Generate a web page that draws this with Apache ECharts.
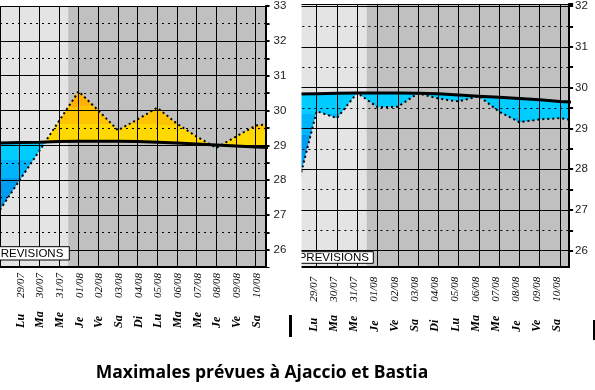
<!DOCTYPE html>
<html><head><meta charset="utf-8">
<script src="https://cdn.jsdelivr.net/npm/echarts@6/dist/echarts.min.js"></script>
<style>html,body{margin:0;padding:0;background:#fff}#c{width:595px;height:390px}</style>
</head><body><div id="c"></div>
<script>
// ---- data ----
const days = ['Di 28/07','Lu 29/07','Ma 30/07','Me 31/07','Je 01/08','Ve 02/08','Sa 03/08','Di 04/08','Lu 05/08','Ma 06/08','Me 07/08','Je 08/08','Ve 09/08','Sa 10/08','Di 11/08'];
const shownFirst = 1, shownLast = 13;           // labelled days (Lu 29/07 .. Sa 10/08)
const forecastFrom = 3.47;                       // start of the "PREVISIONS" (darker) zone
const ajaccioForecast = [27.15, 28.0, 28.84, 29.7, 30.55, 30.0, 29.43, 29.75, 30.08, 29.62, 29.25, 28.93, 29.25, 29.57, 29.62];
const ajaccioNormal   = [29.07, 29.08, 29.09, 29.11, 29.12, 29.12, 29.12, 29.11, 29.09, 29.07, 29.04, 29.01, 28.98, 28.95, 28.93];
const bastiaForecast  = [27.45, 29.42, 29.25, 29.87, 29.52, 29.53, 29.86, 29.73, 29.66, 29.79, 29.41, 29.15, 29.22, 29.25, 29.17];
const bastiaNormal    = [29.84, 29.85, 29.86, 29.87, 29.87, 29.87, 29.86, 29.85, 29.82, 29.79, 29.76, 29.73, 29.70, 29.66, 29.63];
const ajaccioYLabels = [26, 27, 28, 29, 30, 31, 32, 33];
const bastiaYLabels  = [26, 27, 28, 29, 30, 31, 32];
const warmBands = ['#FFD800', '#FFC400', '#FFB000'];
const coolBands = ['#00CCFF', '#00B4FA', '#009CF0'];
const bandStep = 0.5;

function fillRenderer(fc, nm) {
  return function (params, api) {
    const i = params.dataIndex;
    if (i >= fc.length - 1) return null;
    const P1 = api.coord([i, fc[i]]), P2 = api.coord([i + 1, fc[i + 1]]);
    const Q1 = api.coord([i, nm[i]]), Q2 = api.coord([i + 1, nm[i + 1]]);
    const d1 = fc[i] - nm[i], d2 = fc[i + 1] - nm[i + 1];
    const half = api.size([0, bandStep])[1];
    const normY = (Q1[1] + Q2[1]) / 2;
    const children = [];
    function grad(sign) {
      const cols = sign > 0 ? warmBands : coolBands;
      const stops = [];
      cols.forEach((c, k) => {
        stops.push({offset: k / cols.length, color: c});
        stops.push({offset: (k + 1) / cols.length, color: c});
      });
      return new echarts.graphic.LinearGradient(0, normY, 0, normY - sign * cols.length * half, stops, true);
    }
    function poly(points, sign) {
      children.push({type: 'polygon', shape: {points: points}, style: {fill: grad(sign), stroke: null}});
    }
    if ((d1 >= 0 && d2 >= 0) || (d1 <= 0 && d2 <= 0)) {
      if (d1 === 0 && d2 === 0) return null;
      poly([P1, P2, Q2, Q1], (d1 + d2) >= 0 ? 1 : -1);
    } else {
      const t = d1 / (d1 - d2);
      const C = [P1[0] + t * (P2[0] - P1[0]), P1[1] + t * (P2[1] - P1[1])];
      poly([P1, C, Q1], d1 > 0 ? 1 : -1);
      poly([C, P2, Q2], d2 > 0 ? 1 : -1);
    }
    return {type: 'group', children: children};
  };
}

function xLabel(v) {
  if (v < shownFirst || v > shownLast || v !== Math.round(v)) return '';
  const parts = days[v].split(' ');
  return '{d|' + parts[0] + '}{n|' + parts[1] + '}';
}
const rich = {
  d: {fontFamily: 'Liberation Serif', fontStyle: 'italic', fontWeight: 'bold', fontSize: 12, width: 30, align: 'left', color: '#000'},
  n: {fontFamily: 'Liberation Serif', fontStyle: 'italic', fontSize: 11, color: '#000'}
};

const charts = [
  {grid: {left: -6.88, top: -0.67, width: 272.4, height: 285.36}, xmax: 13.5, ymax: 33,
   axisOffset: -17.8, labelMargin: 6, labelPad: [2, 0, 0, 0], yMargin: 8,
   fc: ajaccioForecast, nm: ajaccioNormal, ylabels: ajaccioYLabels},
  {grid: {left: 296.4, top: -1.58, width: 272.7, height: 293.1}, xmax: 13.45, ymax: 32.05,
   axisOffset: -24.8, labelMargin: 10, labelPad: [0, 0, 6, 0], yMargin: 6,
   fc: bastiaForecast, nm: bastiaNormal, ylabels: bastiaYLabels}
];

const option = {animation: false, grid: [], xAxis: [], yAxis: [], series: []};
charts.forEach((c, g) => {
  option.grid.push(Object.assign({show: true, backgroundColor: '#C0C0C0', borderWidth: 0, containLabel: false}, c.grid));
  option.xAxis.push({type: 'value', gridIndex: g, position: 'bottom', min: 0, max: c.xmax, interval: 1, z: 3,
    axisLine: {show: false}, axisTick: {show: false}, axisLabel: {show: false},
    splitLine: {show: true, lineStyle: {color: '#000', width: 1}}});
  option.xAxis.push({type: 'value', gridIndex: g, position: 'bottom', min: 0, max: c.xmax, interval: 1, z: 7,
    offset: c.axisOffset,
    axisLine: {show: true, onZero: false, lineStyle: {color: '#000', width: 2}},
    axisTick: {show: false}, splitLine: {show: false},
    axisLabel: {show: true, rotate: 90, margin: c.labelMargin, padding: c.labelPad, formatter: xLabel, rich: rich,
      showMinLabel: false, showMaxLabel: false}});
  // main y axis: integer lines + labels
  option.yAxis.push({type: 'value', gridIndex: g, position: 'right', min: 25, max: c.ymax, interval: 1, z: 4,
    axisLine: {show: true, onZero: false, lineStyle: {color: '#000', width: 2}},
    axisTick: {show: false},
    splitLine: {show: true, lineStyle: {color: '#000', width: 1}},
    axisLabel: {margin: c.yMargin, color: '#222', fontFamily: 'Liberation Sans', fontSize: 11.5,
      formatter: v => (c.ylabels.indexOf(v) >= 0 ? String(v) : '')}});
  // auxiliary y axis: dotted half-degree lines + ticks
  option.yAxis.push({type: 'value', gridIndex: g, position: 'right', min: 25, max: c.ymax, interval: 0.5, z: 3,
    axisLine: {show: false, onZero: false},
    axisTick: {show: true, inside: false, length: 4, lineStyle: {color: '#000', width: 2}},
    axisLabel: {show: false},
    splitLine: {show: true, lineStyle: {color: '#000', width: 1, type: [2, 4]}}});
  const xi = g * 2, yi = g * 2;
  option.series.push({type: 'line', xAxisIndex: xi, yAxisIndex: yi, silent: true, z: 1,
    data: c.nm.map((v, i) => [i, v]), symbol: 'none', lineStyle: {opacity: 0},
    markArea: {silent: true, itemStyle: {color: '#E4E4E4'}, data: [[{xAxis: 0}, {xAxis: forecastFrom}]]}});
  option.series.push({type: 'custom', xAxisIndex: xi, yAxisIndex: yi, silent: true, z: 2, clip: true,
    renderItem: fillRenderer(c.fc, c.nm), encode: {x: 0, y: 1},
    data: c.fc.map((v, i) => [i, v])});
  option.series.push({type: 'line', xAxisIndex: xi, yAxisIndex: yi, silent: true, z: 5,
    data: c.nm.map((v, i) => [i, v]), symbol: 'none', lineStyle: {color: '#000', width: 3}});
  option.series.push({type: 'line', xAxisIndex: xi, yAxisIndex: yi, silent: true, z: 5,
    data: c.fc.map((v, i) => [i, v]), symbol: 'none', lineStyle: {color: '#000', width: 2, type: [2, 3]}});
});

option.graphic = [
  {type: 'rect', z: 6, silent: true, shape: {x: -2, y: 268, width: 600, height: 40}, style: {fill: '#fff'}},
  {type: 'rect', z: 7, silent: true, shape: {x: -6, y: 246.7, width: 75.3, height: 13.3}, style: {fill: '#fff', stroke: '#000', lineWidth: 1}},
  {type: 'text', z: 7, silent: true, x: -7, y: 253.8, style: {text: 'PREVISIONS', fontFamily: 'Liberation Sans', fontSize: 11.5, fill: '#000', align: 'left', verticalAlign: 'middle'}},
  {type: 'rect', z: 7, silent: true, shape: {x: 293, y: 251.7, width: 80.3, height: 11.6}, style: {fill: '#fff', stroke: '#000', lineWidth: 1}},
  {type: 'text', z: 7, silent: true, x: 298.7, y: 257.8, style: {text: 'PREVISIONS', fontFamily: 'Liberation Sans', fontSize: 11.5, fill: '#000', align: 'left', verticalAlign: 'middle'}},
  {type: 'rect', z: 8, silent: true, shape: {x: 290.5, y: -2, width: 11, height: 272}, style: {fill: '#fff'}},
  {type: 'rect', z: 9, silent: true, shape: {x: 289, y: 315, width: 3, height: 22}, style: {fill: '#000'}},
  {type: 'rect', z: 9, silent: true, shape: {x: 593, y: 320, width: 3, height: 20}, style: {fill: '#000'}},
  {type: 'text', z: 9, silent: true, x: 262, y: 373, style: {text: 'Maximales prévues à Ajaccio et Bastia', fontFamily: 'Open Sans', fontWeight: 'bold', fontSize: 17.5, fill: '#000', align: 'center', verticalAlign: 'middle'}}
];

const chart = echarts.init(document.getElementById('c'), null, {renderer: 'canvas'});
chart.setOption(option);
</script></body></html>
